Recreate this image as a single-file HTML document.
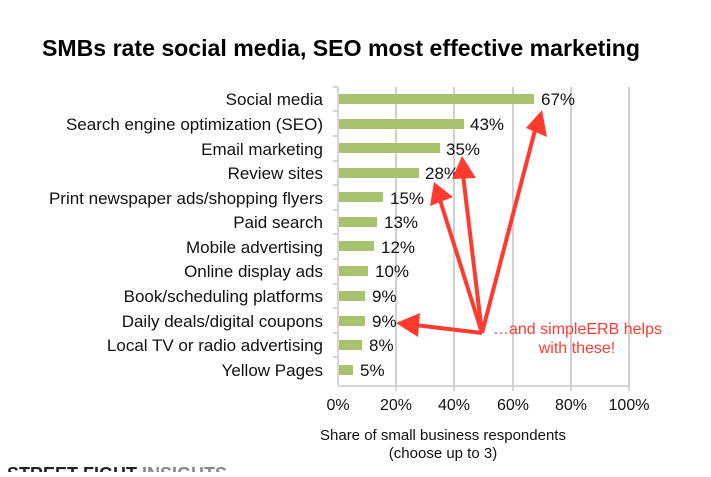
<!DOCTYPE html>
<html><head><style>
body{margin:0;background:#fff;width:711px;height:472px;overflow:hidden;font-family:"Liberation Sans",Arial,sans-serif}
</style></head><body>
<svg width="711" height="472" xmlns="http://www.w3.org/2000/svg" font-family="Liberation Sans, Arial, sans-serif">
<text x="42" y="56" font-size="23" font-weight="bold" fill="#000" textLength="598" lengthAdjust="spacingAndGlyphs">SMBs rate social media, SEO most effective marketing</text>
<g stroke="#d0d0d0" stroke-width="2">
<line x1="396" y1="87" x2="396" y2="386"/><line x1="454" y1="87" x2="454" y2="386"/>
<line x1="513" y1="87" x2="513" y2="386"/><line x1="571" y1="87" x2="571" y2="386"/>
<line x1="629" y1="87" x2="629" y2="386"/>
</g>
<g stroke="#c8c8c8" stroke-width="1.5">
<line x1="338" y1="87" x2="338" y2="386"/><line x1="338" y1="386" x2="629" y2="386"/>
<line x1="333" y1="87" x2="338" y2="87"/><line x1="333" y1="111" x2="338" y2="111"/><line x1="333" y1="136" x2="338" y2="136"/><line x1="333" y1="161" x2="338" y2="161"/><line x1="333" y1="185" x2="338" y2="185"/><line x1="333" y1="210" x2="338" y2="210"/><line x1="333" y1="234" x2="338" y2="234"/><line x1="333" y1="259" x2="338" y2="259"/><line x1="333" y1="284" x2="338" y2="284"/><line x1="333" y1="308" x2="338" y2="308"/><line x1="333" y1="333" x2="338" y2="333"/><line x1="333" y1="357" x2="338" y2="357"/>
<line x1="396" y1="386" x2="396" y2="391"/><line x1="454" y1="386" x2="454" y2="391"/><line x1="513" y1="386" x2="513" y2="391"/><line x1="571" y1="386" x2="571" y2="391"/><line x1="629" y1="386" x2="629" y2="391"/>
</g>
<g fill="#a9c26e">
<rect x="339" y="94" width="195" height="10"/>
<rect x="339" y="119" width="125" height="10"/>
<rect x="339" y="143" width="101" height="10"/>
<rect x="339" y="168" width="80" height="10"/>
<rect x="339" y="192" width="44" height="10"/>
<rect x="339" y="217" width="38" height="10"/>
<rect x="339" y="241" width="35" height="10"/>
<rect x="339" y="266" width="29" height="10"/>
<rect x="339" y="291" width="26" height="10"/>
<rect x="339" y="316" width="26" height="10"/>
<rect x="339" y="340" width="23" height="10"/>
<rect x="339" y="365" width="14" height="10"/>
</g>
<g font-size="17" fill="#111" text-anchor="end">
<text x="323" y="105">Social media</text>
<text x="323" y="130">Search engine optimization (SEO)</text>
<text x="323" y="155">Email marketing</text>
<text x="323" y="179">Review sites</text>
<text x="323" y="204">Print newspaper ads/shopping flyers</text>
<text x="323" y="228">Paid search</text>
<text x="323" y="253">Mobile advertising</text>
<text x="323" y="277">Online display ads</text>
<text x="323" y="302">Book/scheduling platforms</text>
<text x="323" y="327">Daily deals/digital coupons</text>
<text x="323" y="351">Local TV or radio advertising</text>
<text x="323" y="376">Yellow Pages</text>
</g>
<g font-size="17" fill="#111">
<text x="541" y="105">67%</text>
<text x="470" y="130">43%</text>
<text x="446" y="155">35%</text>
<text x="425" y="179">28%</text>
<text x="390" y="204">15%</text>
<text x="384" y="228">13%</text>
<text x="381" y="253">12%</text>
<text x="375" y="277">10%</text>
<text x="372" y="302">9%</text>
<text x="372" y="327">9%</text>
<text x="369" y="351">8%</text>
<text x="360" y="376">5%</text>
</g>
<g font-size="16" fill="#111" text-anchor="middle">
<text x="338" y="410">0%</text><text x="396" y="410">20%</text><text x="454" y="410">40%</text>
<text x="513" y="410">60%</text><text x="571" y="410">80%</text><text x="629" y="410">100%</text>
</g>
<g font-size="15" fill="#111" text-anchor="middle">
<text x="443" y="440">Share of small business respondents</text>
<text x="443" y="458">(choose up to 3)</text>
</g>
<text x="7" y="480" font-size="18" font-weight="bold" fill="#222">STREET FIGHT <tspan fill="#888">INSIGHTS</tspan></text>
<g stroke="#ff3b30" stroke-width="4" fill="none">
<line x1="482" y1="333" x2="535" y2="130"/>
<line x1="482" y1="333" x2="463" y2="175"/>
<line x1="482" y1="333" x2="440" y2="200"/>
<line x1="482" y1="333" x2="415" y2="325"/>
</g>
<g fill="#ff3b30">
<polygon points="542,110 547,137 526,128"/>
<polygon points="462,156 476,178 452,179"/>
<polygon points="434,182 453,197 430,206"/>
<polygon points="396,323 420,313 418,337"/>
</g>
<g font-size="16" fill="#ff3b30">
<text x="493" y="334">…and simpleERB helps</text>
<text x="577" y="353" text-anchor="middle">with these!</text>
</g>
</svg>
</body></html>
